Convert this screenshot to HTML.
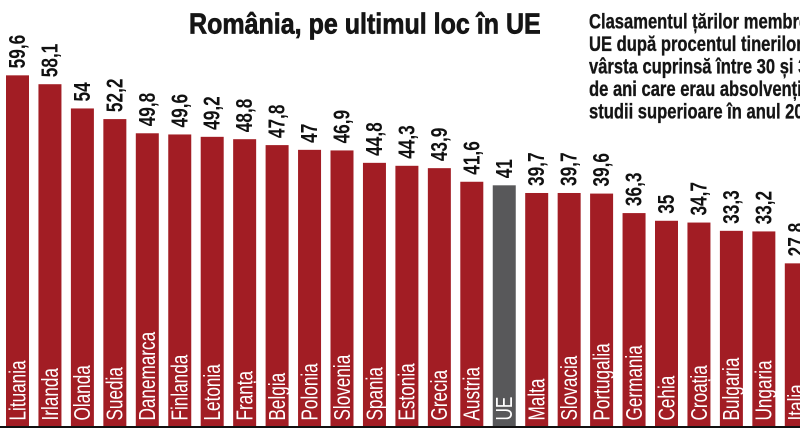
<!DOCTYPE html>
<html>
<head>
<meta charset="utf-8">
<style>
html,body{margin:0;padding:0;background:#fff;}
svg{display:block;}
.v{font-family:"Liberation Sans",sans-serif;font-weight:bold;font-size:23px;fill:#111;}
.c{font-family:"Liberation Sans",sans-serif;font-weight:normal;font-size:23.5px;fill:#fff;}
.t{font-family:"Liberation Sans",sans-serif;font-weight:bold;font-size:29px;fill:#151515;stroke:#151515;stroke-width:0.7px;}
.s{font-family:"Liberation Sans",sans-serif;font-weight:bold;font-size:21px;fill:#151515;stroke:#151515;stroke-width:0.35px;}
</style>
</head>
<body>
<svg width="800" height="445" viewBox="0 0 800 445" xmlns="http://www.w3.org/2000/svg">
<rect x="0" y="0" width="800" height="445" fill="#fff"/>

<text class="t" transform="translate(189,33.3) scale(0.863,1)">România, pe ultimul loc în UE</text>

<text class="s" transform="translate(589,28.3) scale(0.79,1)">Clasamentul țărilor membre</text>
<text class="s" transform="translate(589,50.8) scale(0.79,1)">UE după procentul tinerilor cu</text>
<text class="s" transform="translate(589,73.3) scale(0.79,1)">vârsta cuprinsă între 30 și 34</text>
<text class="s" transform="translate(589,95.8) scale(0.79,1)">de ani care erau absolvenți de</text>
<text class="s" transform="translate(589,118.3) scale(0.79,1)">studii superioare în anul 2013</text>

<g fill="#a21d24">
<rect x="6.00" y="75.34" width="23" height="351.66"/>
<rect x="38.45" y="84.21" width="23" height="342.79"/>
<rect x="70.90" y="108.45" width="23" height="318.55"/>
<rect x="103.35" y="119.09" width="23" height="307.91"/>
<rect x="135.80" y="133.28" width="23" height="293.72"/>
<rect x="168.25" y="134.46" width="23" height="292.54"/>
<rect x="200.70" y="136.83" width="23" height="290.17"/>
<rect x="233.15" y="139.19" width="23" height="287.81"/>
<rect x="265.60" y="145.11" width="23" height="281.89"/>
<rect x="298.05" y="149.84" width="23" height="277.16"/>
<rect x="330.50" y="150.43" width="23" height="276.57"/>
<rect x="362.95" y="162.84" width="23" height="264.16"/>
<rect x="395.40" y="165.80" width="23" height="261.20"/>
<rect x="427.85" y="168.16" width="23" height="258.84"/>
<rect x="460.30" y="181.76" width="23" height="245.24"/>
<rect x="525.20" y="192.99" width="23" height="234.01"/>
<rect x="557.65" y="192.99" width="23" height="234.01"/>
<rect x="590.10" y="193.58" width="23" height="233.42"/>
<rect x="622.55" y="213.09" width="23" height="213.91"/>
<rect x="655.00" y="220.78" width="23" height="206.22"/>
<rect x="687.45" y="222.55" width="23" height="204.45"/>
<rect x="719.90" y="230.83" width="23" height="196.17"/>
<rect x="752.35" y="231.42" width="23" height="195.58"/>
<rect x="784.80" y="263.35" width="23" height="163.65"/>
</g>
<rect x="492.75" y="185.31" width="23" height="241.69" fill="#58585a"/>

<rect x="0" y="426" width="800" height="2" fill="#111"/>

<g class="v">
<text transform="translate(25.00,68.34) rotate(-90) scale(0.75,1)">59,6</text>
<text transform="translate(57.45,77.21) rotate(-90) scale(0.75,1)">58,1</text>
<text transform="translate(89.90,101.45) rotate(-90) scale(0.75,1)">54</text>
<text transform="translate(122.35,112.09) rotate(-90) scale(0.75,1)">52,2</text>
<text transform="translate(154.80,126.28) rotate(-90) scale(0.75,1)">49,8</text>
<text transform="translate(187.25,127.46) rotate(-90) scale(0.75,1)">49,6</text>
<text transform="translate(219.70,129.83) rotate(-90) scale(0.75,1)">49,2</text>
<text transform="translate(252.15,132.19) rotate(-90) scale(0.75,1)">48,8</text>
<text transform="translate(284.60,138.11) rotate(-90) scale(0.75,1)">47,8</text>
<text transform="translate(317.05,142.84) rotate(-90) scale(0.75,1)">47</text>
<text transform="translate(349.50,143.43) rotate(-90) scale(0.75,1)">46,9</text>
<text transform="translate(381.95,155.84) rotate(-90) scale(0.75,1)">44,8</text>
<text transform="translate(414.40,158.80) rotate(-90) scale(0.75,1)">44,3</text>
<text transform="translate(446.85,161.16) rotate(-90) scale(0.75,1)">43,9</text>
<text transform="translate(479.30,174.76) rotate(-90) scale(0.75,1)">41,6</text>
<text transform="translate(511.75,178.31) rotate(-90) scale(0.75,1)">41</text>
<text transform="translate(544.20,185.99) rotate(-90) scale(0.75,1)">39,7</text>
<text transform="translate(576.65,185.99) rotate(-90) scale(0.75,1)">39,7</text>
<text transform="translate(609.10,186.58) rotate(-90) scale(0.75,1)">39,6</text>
<text transform="translate(641.55,206.09) rotate(-90) scale(0.75,1)">36,3</text>
<text transform="translate(674.00,213.78) rotate(-90) scale(0.75,1)">35</text>
<text transform="translate(706.45,215.55) rotate(-90) scale(0.75,1)">34,7</text>
<text transform="translate(738.90,223.83) rotate(-90) scale(0.75,1)">33,3</text>
<text transform="translate(771.35,224.42) rotate(-90) scale(0.75,1)">33,2</text>
<text transform="translate(803.80,256.35) rotate(-90) scale(0.75,1)">27,8</text>
</g>

<g class="c">
<text transform="translate(25.30,420.5) rotate(-90) scale(0.73,1)">Lituania</text>
<text transform="translate(57.75,420.5) rotate(-90) scale(0.73,1)">Irlanda</text>
<text transform="translate(90.20,420.5) rotate(-90) scale(0.73,1)">Olanda</text>
<text transform="translate(122.65,420.5) rotate(-90) scale(0.73,1)">Suedia</text>
<text transform="translate(155.10,420.5) rotate(-90) scale(0.73,1)">Danemarca</text>
<text transform="translate(187.55,420.5) rotate(-90) scale(0.73,1)">Finlanda</text>
<text transform="translate(220.00,420.5) rotate(-90) scale(0.73,1)">Letonia</text>
<text transform="translate(252.45,420.5) rotate(-90) scale(0.73,1)">Franța</text>
<text transform="translate(284.90,420.5) rotate(-90) scale(0.73,1)">Belgia</text>
<text transform="translate(317.35,420.5) rotate(-90) scale(0.73,1)">Polonia</text>
<text transform="translate(349.80,420.5) rotate(-90) scale(0.73,1)">Slovenia</text>
<text transform="translate(382.25,420.5) rotate(-90) scale(0.73,1)">Spania</text>
<text transform="translate(414.70,420.5) rotate(-90) scale(0.73,1)">Estonia</text>
<text transform="translate(447.15,420.5) rotate(-90) scale(0.73,1)">Grecia</text>
<text transform="translate(479.60,420.5) rotate(-90) scale(0.73,1)">Austria</text>
<text transform="translate(512.05,420.5) rotate(-90) scale(0.73,1)">UE</text>
<text transform="translate(544.50,420.5) rotate(-90) scale(0.73,1)">Malta</text>
<text transform="translate(576.95,420.5) rotate(-90) scale(0.73,1)">Slovacia</text>
<text transform="translate(609.40,420.5) rotate(-90) scale(0.73,1)">Portugalia</text>
<text transform="translate(641.85,420.5) rotate(-90) scale(0.73,1)">Germania</text>
<text transform="translate(674.30,420.5) rotate(-90) scale(0.73,1)">Cehia</text>
<text transform="translate(706.75,420.5) rotate(-90) scale(0.73,1)">Croația</text>
<text transform="translate(739.20,420.5) rotate(-90) scale(0.73,1)">Bulgaria</text>
<text transform="translate(771.65,420.5) rotate(-90) scale(0.73,1)">Ungaria</text>
<text transform="translate(804.10,420.5) rotate(-90) scale(0.73,1)">Italia</text>
</g>
</svg>
</body>
</html>
